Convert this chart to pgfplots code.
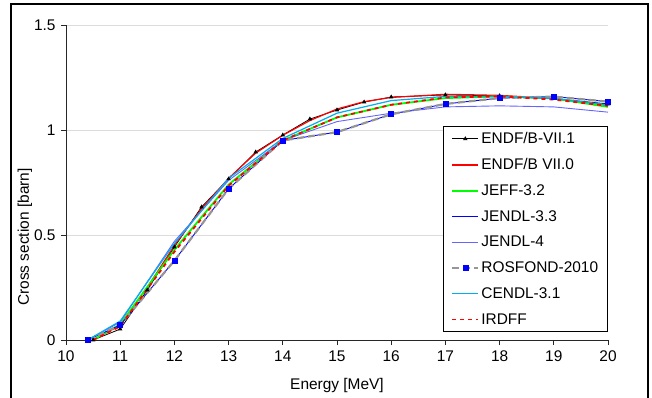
\documentclass[border=0pt]{standalone}
\usepackage{fontspec}
\setmainfont{Liberation Sans}
\usepackage{pgfplots}
\pgfplotsset{compat=1.18}
\definecolor{jendlfour}{RGB}{100,100,255}
\definecolor{rosgray}{RGB}{150,150,150}
\definecolor{gridc}{RGB}{220,220,220}
\begin{document}
\begin{tikzpicture}[font=\fontsize{15.5}{18}\selectfont]
\path[use as bounding box] (-66bp,-58bp) rectangle (586bp,340bp);
\draw[line width=1.5bp,black] (-55bp,-80bp) -- (-55bp,336bp) -- (582bp,336bp) -- (582bp,-80bp);
\begin{axis}[
  scale only axis, width=542bp, height=315bp,
  xmin=10, xmax=20, ymin=0, ymax=1.5,
  xtick={10,11,...,20}, ytick={0,0.5,1,1.5},
  axis x line*=bottom, axis y line*=left,
  axis line style={-, black!85, line width=0.9bp},
  tick align=outside, major tick length=5bp,
  tick style={black!85, line width=0.9bp},
  ymajorgrids, grid style={gridc, line width=0.8bp},
  /pgf/number format/assume math mode=true,
  xticklabel style={yshift=-2bp},
  yticklabel style={xshift=-2bp},
  xlabel={Energy [MeV]}, ylabel={Cross section [barn]},
  every axis x label/.style={at={(axis description cs:0.5,-0.146)}, anchor=center},
  every axis y label/.style={at={(axis description cs:-0.0757,0.327)}, rotate=90, anchor=center},
  legend style={at={(rel axis cs:1,0.0254)}, anchor=south east, draw=black, line width=0.8bp, fill=white,
    cells={anchor=west}, row sep=9.5bp, inner xsep=7.5bp, inner ysep=4bp,
    font=\fontsize{15.5}{18}\selectfont},
  legend image code/.code={\draw[mark repeat=2,mark phase=2,#1] plot coordinates {(0bp,0bp) (13bp,0bp) (26bp,0bp)};},
]
\addplot[black, line width=0.8bp, mark=triangle*, mark size=1.8bp, mark options={solid}] coordinates {
(10.5,0)(11,0.052)(11.5,0.238)(12,0.443)(12.5,0.633)(13,0.767)(13.5,0.895)(14,0.976)(14.5,1.052)(15,1.095)(15.5,1.133)(16,1.157)(17,1.167)(18,1.163)(19,1.15)(20,1.124)};
\addlegendentry{ENDF/B-VII.1}
\addplot[red, line width=1.2bp] coordinates {
(10.5,0)(11,0.07)(11.5,0.25)(12,0.45)(12.5,0.625)(13,0.77)(13.5,0.89)(14,0.975)(14.5,1.045)(15,1.1)(15.5,1.135)(16,1.155)(17,1.17)(18,1.165)(19,1.15)(20,1.115)};
\addlegendentry{ENDF/B VII.0}
\addplot[green, line width=1.8bp] coordinates {
(10.5,0)(11,0.075)(12,0.43)(13,0.74)(14,0.95)(15,1.06)(16,1.12)(17,1.152)(18,1.16)(19,1.15)(20,1.11)};
\addlegendentry{JEFF-3.2}
\addplot[blue, line width=0.9bp] coordinates {
(10.4,0)(11,0.071)(12,0.378)(13,0.72)(14,0.95)(15,0.99)(16,1.075)(17,1.124)(18,1.152)(19,1.159)(20,1.135)};
\addlegendentry{JENDL-3.3}
\addplot[jendlfour, line width=0.9bp] coordinates {
(10.4,0)(11,0.085)(12,0.47)(13,0.76)(14,0.95)(15,1.04)(16,1.08)(17,1.11)(18,1.115)(19,1.11)(20,1.085)};
\addlegendentry{JENDL-4}
\addplot[rosgray, line width=2.2bp, dash pattern=on 7bp off 4bp, mark=square*, mark size=2.5bp, mark options={solid, fill=blue, draw=blue, line width=0.5bp}] coordinates {
(10.4,0)(11,0.071)(12,0.378)(13,0.72)(14,0.95)(15,0.99)(16,1.075)(17,1.124)(18,1.152)(19,1.159)(20,1.135)};
\addlegendentry{ROSFOND-2010}
\addplot[cyan, line width=1.2bp] coordinates {
(10.4,0)(11,0.09)(12,0.46)(13,0.77)(14,0.96)(15,1.08)(16,1.14)(17,1.16)(18,1.16)(19,1.15)(20,1.12)};
\addlegendentry{CENDL-3.1}
\addplot[red, line width=1.8bp, dash pattern=on 4bp off 4bp] coordinates {
(10.5,0)(11,0.065)(12,0.42)(13,0.735)(14,0.95)(15,1.06)(16,1.12)(17,1.155)(18,1.16)(19,1.145)(20,1.115)};
\addlegendentry{IRDFF}
\end{axis}
\end{tikzpicture}
\end{document}
